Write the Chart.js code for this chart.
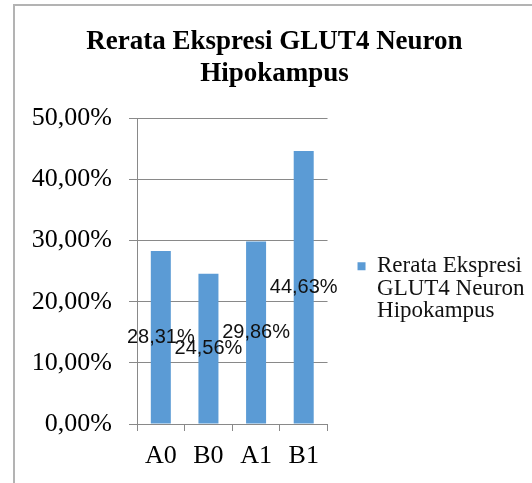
<!DOCTYPE html>
<html>
<head>
<meta charset="utf-8">
<script src="https://cdn.jsdelivr.net/npm/chart.js@4/dist/chart.umd.min.js"></script>
<style>
  body { margin: 0; background: #fff; }
  .frame {
    position: absolute;
    left: 13px;
    top: 4px;
    width: 540px;
    height: 500px;
    border-top: 2px solid #b3b3b3;
    border-left: 2px solid #b3b3b3;
  }
  .wrap { position: absolute; left: 0; top: 0; width: 532px; height: 483px; overflow: hidden; }
  canvas { position: absolute; left: 0; top: 0; }
</style>
</head>
<body>
<div class="wrap">
  <div class="frame"></div>
  <canvas id="myChart" width="532" height="483"></canvas>
</div>
<script>
const titleLines = ["Rerata Ekspresi GLUT4 Neuron", "Hipokampus"];
const seriesName = ["Rerata Ekspresi", "GLUT4 Neuron", "Hipokampus"];
const categories = ["A0", "B0", "A1", "B1"];
const values = [0.2831, 0.2456, 0.2986, 0.4463];
const yTicks = [0, 0.1, 0.2, 0.3, 0.4, 0.5];

const barColor = "#5b9bd5";
const gridColor = "#898989";
const serif = "'Liberation Serif', 'Times New Roman', serif";

function pct(v) {
  return (v * 100).toFixed(2).replace(".", ",") + "%";
}

// labels in the middle of each bar
const barLabels = {
  id: "barLabels",
  afterDatasetsDraw(chart) {
    const ctx = chart.ctx;
    ctx.save();
    ctx.font = "20px 'Liberation Sans', Arial, sans-serif";
    ctx.fillStyle = "#111";
    ctx.textAlign = "center";
    ctx.textBaseline = "middle";
    chart.getDatasetMeta(0).data.forEach((bar, i) => {
      ctx.fillText(pct(values[i]), bar.x, (bar.y + bar.base) / 2);
    });
    ctx.restore();
  },
};

// legend sits beside the plot only, not beside the title
const legendBox = {
  id: "legendBox",
  afterLayout(chart) {
    chart.legend.top = chart.chartArea.top;
    chart.legend.bottom = chart.scales.x.top + 35;
  },
};

const ctx = document.getElementById("myChart");

const myChart = new Chart(ctx, {
  type: "bar",
  data: {
    labels: categories,
    datasets: [
      {
        label: seriesName,
        data: values,
        backgroundColor: barColor,
        borderWidth: 0,
        categoryPercentage: 1,
        barPercentage: 0.42,
      },
    ],
  },
  plugins: [barLabels, legendBox],
  options: {
    responsive: false,
    animation: false,
    layout: {
      padding: { left: 17, right: 0, top: 4, bottom: 0 },
    },
    plugins: {
      title: {
        display: true,
        text: titleLines,
        color: "#000",
        font: { family: serif, size: 27, weight: "bold", lineHeight: 1.19 },
        padding: { top: 22, bottom: 28 },
      },
      legend: {
        position: "right",
        maxWidth: 211,
        labels: {
          boxWidth: 8,
          boxHeight: 8,
          padding: 30,
          color: "#111",
          font: { family: serif, size: 23, lineHeight: 0.98 },
        },
      },
      tooltip: { enabled: false },
    },
    scales: {
      x: {
        afterFit(scale) {
          scale.height = 59;
        },
        grid: {
          drawOnChartArea: false,
          drawTicks: true,
          tickLength: 7,
          color: gridColor,
        },
        border: { display: true, color: gridColor },
        ticks: {
          color: "#000",
          padding: 10,
          font: { family: serif, size: 26 },
        },
      },
      y: {
        min: yTicks[0],
        max: yTicks[yTicks.length - 1],
        afterFit(scale) {
          scale.width = 120;
        },
        afterBuildTicks(scale) {
          scale.ticks = yTicks.map((v) => ({ value: v }));
        },
        grid: {
          color: gridColor,
          tickLength: 8,
        },
        border: { display: true, color: gridColor },
        ticks: {
          color: "#000",
          padding: 17,
          callback: (v) => pct(v),
          font: { family: serif, size: 26 },
        },
      },
    },
  },
});
</script>
</body>
</html>
